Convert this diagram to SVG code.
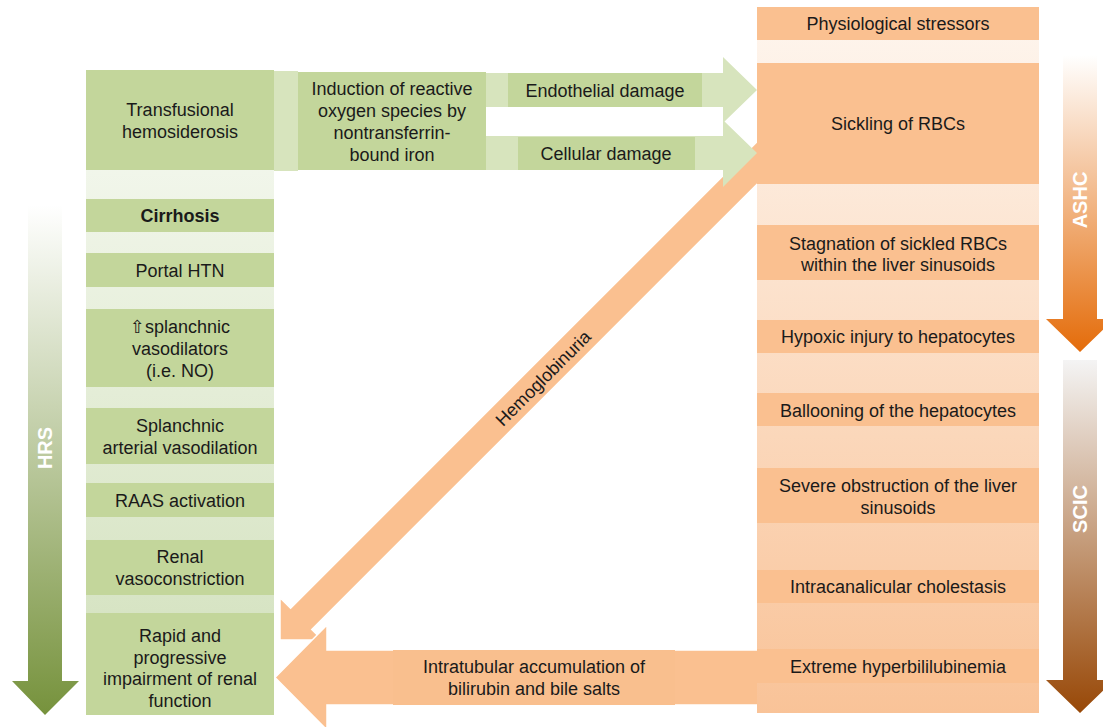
<svg xmlns="http://www.w3.org/2000/svg" width="1103" height="727" viewBox="0 0 1103 727">
<defs>
<linearGradient id="gL" gradientUnits="userSpaceOnUse" x1="0" y1="70" x2="0" y2="715"><stop offset="0" stop-color="#f7faf3"/><stop offset="1" stop-color="#d1e0bb"/></linearGradient>
<linearGradient id="gR" gradientUnits="userSpaceOnUse" x1="0" y1="7" x2="0" y2="713"><stop offset="0" stop-color="#fef6ef"/><stop offset="1" stop-color="#f9c398"/></linearGradient>
<linearGradient id="gHRS" gradientUnits="userSpaceOnUse" x1="0" y1="205" x2="0" y2="715"><stop offset="0" stop-color="#ffffff"/><stop offset="1" stop-color="#76923c"/></linearGradient>
<linearGradient id="gASHC" gradientUnits="userSpaceOnUse" x1="0" y1="55" x2="0" y2="352"><stop offset="0" stop-color="#ffffff"/><stop offset="1" stop-color="#e46c0a"/></linearGradient>
<linearGradient id="gSCIC" gradientUnits="userSpaceOnUse" x1="0" y1="360" x2="0" y2="713"><stop offset="0" stop-color="#f4f4f4"/><stop offset="1" stop-color="#984807"/></linearGradient>
</defs>
<style>
text{font-family:"Liberation Sans","DejaVu Sans",Arial,sans-serif;font-size:18px;fill:#1a1a1a;text-anchor:middle}
.g{fill:#c3d69b}
.gl{fill:#d7e4bd}
.o{fill:#fac090}
.big{font-size:20px;font-weight:bold;fill:#ffffff}
.b{font-weight:bold}
</style>

<g id="left-column">
<rect x="86" y="70" width="188" height="645" fill="url(#gL)"/>
</g>

<g id="connectors">
<path id="hemoglobinuria-arrow" class="o" d="M280,640 L280,597.6 L290.6,608.2 L769.4,129.4 L790.6,150.6 L311.8,629.4 L322.4,640 Z" stroke="#ffffff" stroke-width="1.5"/>
<text transform="translate(543,378) rotate(-45)" y="6.5">Hemoglobinuria</text>
<path id="intratubular-arrow" class="o" d="M275,677.5 L327,625 V650 H760 V705 H327 V730 Z" stroke="#ffffff" stroke-width="1.5"/>
<rect x="393" y="650" width="282" height="55" fill="#f9bf8e"/>
<text x="534" y="673">Intratubular accumulation of</text>
<text x="534" y="695">bilirubin and bile salts</text>
<rect id="iron-link" class="gl" x="274" y="71" width="24" height="100"/>
<path id="endothelial-arrow" class="gl" d="M486,73 H723 V57 L757,90 L723,123 V107 H486 Z"/>
<rect class="g" x="508" y="73" width="194" height="34"/>
<text x="605" y="96.5">Endothelial damage</text>
<path id="cellular-arrow" class="gl" d="M486,136 H723 V120 L757,153 L723,187 V170 H486 Z"/>
<rect class="g" x="518" y="137" width="177" height="33"/>
<text x="606" y="160">Cellular damage</text>
</g>

<g id="right-column">
<rect x="757" y="7" width="282" height="706" fill="url(#gR)"/>
</g>

<g id="n-transfusional"><rect class="g" x="86" y="70" width="188" height="100"/><text x="180" y="116">Transfusional</text><text x="180" y="137.5">hemosiderosis</text></g>
<g id="n-induction"><rect class="g" x="298" y="72" width="188" height="98"/><text x="392" y="94.5">Induction of reactive</text><text x="392" y="116.5">oxygen species by</text><text x="392" y="138.5">nontransferrin-</text><text x="392" y="160.5">bound iron</text></g>
<g id="n-cirrhosis"><rect class="g" x="86" y="199" width="188" height="33"/><text class="b" x="180" y="222">Cirrhosis</text></g>
<g id="n-portal"><rect class="g" x="86" y="253" width="188" height="34"/><text x="180" y="276.5">Portal HTN</text></g>
<g id="n-vasodilators"><rect class="g" x="86" y="309" width="188" height="78"/><text x="180" y="333">⇧splanchnic</text><text x="180" y="355">vasodilators</text><text x="180" y="377">(i.e. NO)</text></g>
<g id="n-splanchnic"><rect class="g" x="86" y="408" width="188" height="56"/><text x="180" y="432">Splanchnic</text><text x="180" y="453.5">arterial vasodilation</text></g>
<g id="n-raas"><rect class="g" x="86" y="483" width="188" height="34"/><text x="180" y="507">RAAS activation</text></g>
<g id="n-renal"><rect class="g" x="86" y="540" width="188" height="55"/><text x="180" y="563">Renal</text><text x="180" y="585">vasoconstriction</text></g>
<g id="n-rapid"><rect class="g" x="86" y="613" width="188" height="102"/><text x="180" y="642">Rapid and</text><text x="180" y="663.5">progressive</text><text x="180" y="685">impairment of renal</text><text x="180" y="706.5">function</text></g>

<g id="n-stressors"><rect class="o" x="757" y="7" width="282" height="33"/><text x="898" y="30">Physiological stressors</text></g>
<g id="n-sickling"><rect class="o" x="757" y="63" width="282" height="121"/><text x="898" y="130">Sickling of RBCs</text></g>
<g id="n-stagnation"><rect class="o" x="757" y="225" width="282" height="55"/><text x="898" y="250">Stagnation of sickled RBCs</text><text x="898" y="271">within the liver sinusoids</text></g>
<g id="n-hypoxic"><rect class="o" x="757" y="320" width="282" height="33"/><text x="898" y="343">Hypoxic injury to hepatocytes</text></g>
<g id="n-ballooning"><rect class="o" x="757" y="393" width="282" height="33"/><text x="898" y="416.5">Ballooning of the hepatocytes</text></g>
<g id="n-obstruction"><rect class="o" x="757" y="468" width="282" height="55"/><text x="898" y="492">Severe obstruction of the liver</text><text x="898" y="513.5">sinusoids</text></g>
<g id="n-cholestasis"><rect class="o" x="757" y="570" width="282" height="33"/><text x="898" y="593">Intracanalicular cholestasis</text></g>
<g id="n-hyperbili"><rect class="o" x="757" y="649" width="282" height="34"/><text x="898" y="672.5">Extreme hyperbililubinemia</text></g>

<g id="hrs-arrow"><path d="M28,205 H62 V681 H79 L45,715 L12,681 H28 Z" fill="url(#gHRS)"/><text class="big" transform="translate(45,448) rotate(-90)" y="7">HRS</text></g>
<g id="ashc-arrow"><path d="M1063,55 H1097 V319 H1114 L1080,352 L1046,319 H1063 Z" fill="url(#gASHC)"/><text class="big" transform="translate(1080,200) rotate(-90)" y="7">ASHC</text></g>
<g id="scic-arrow"><path d="M1063,360 H1097 V680 H1114 L1080,713 L1046,680 H1063 Z" fill="url(#gSCIC)"/><text class="big" transform="translate(1080,509) rotate(-90)" y="7">SCIC</text></g>
</svg>
